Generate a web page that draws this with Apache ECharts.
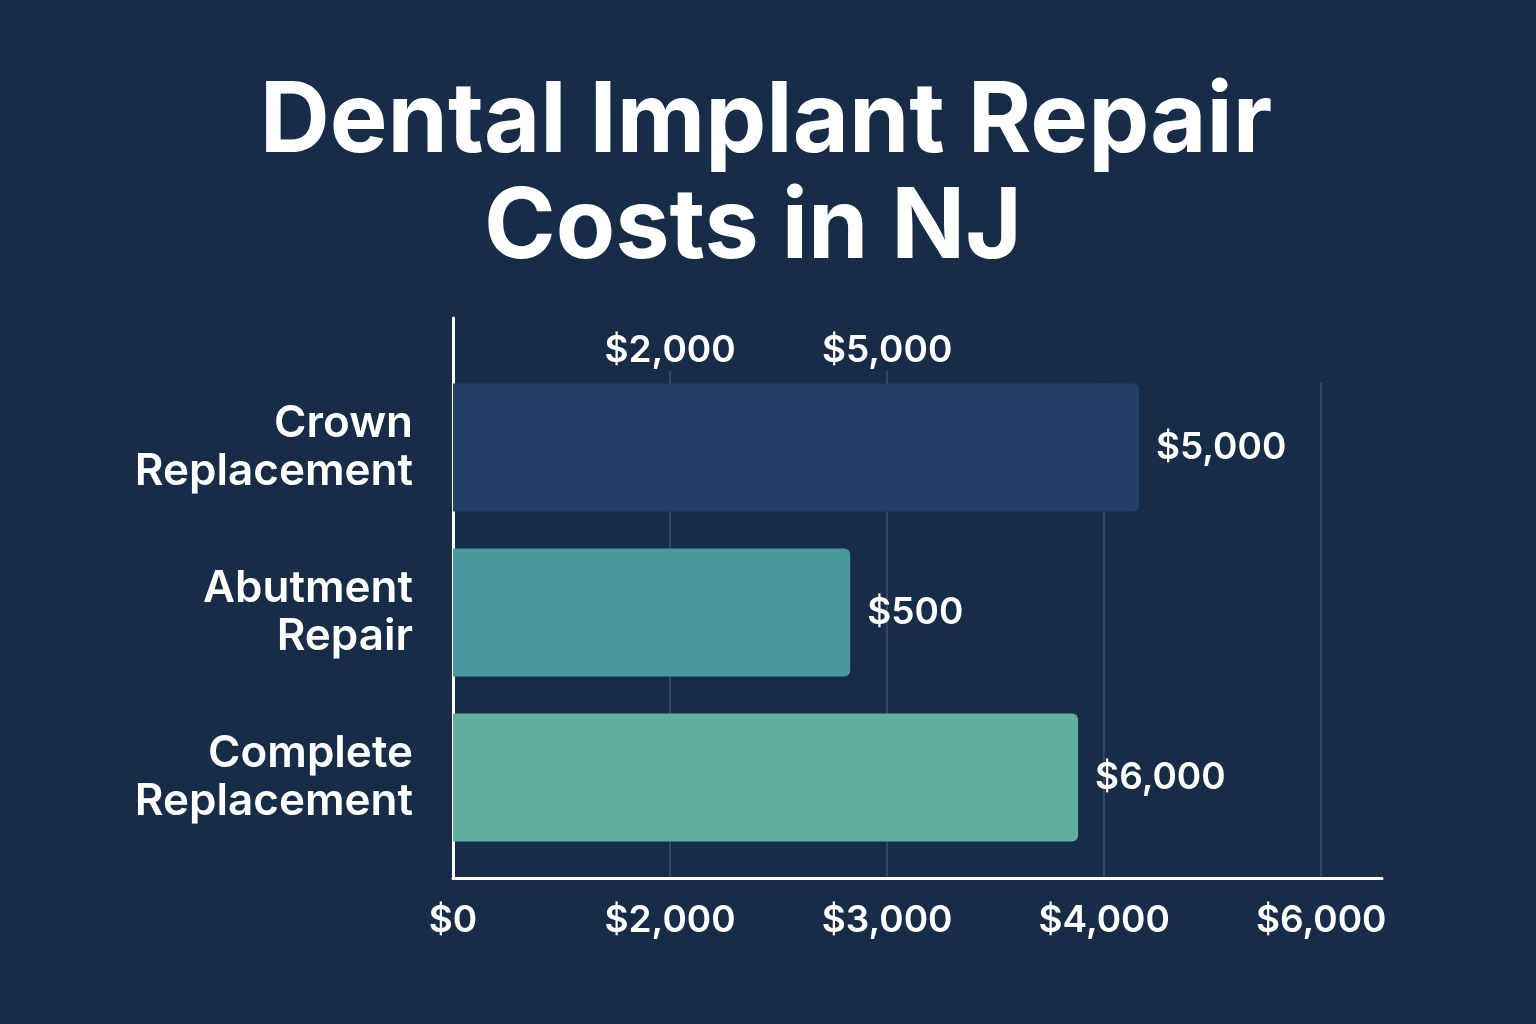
<!DOCTYPE html>
<html>
<head>
<meta charset="utf-8">
<script src="https://cdn.jsdelivr.net/npm/echarts@6/dist/echarts.min.js"></script>
<style>
html, body { margin: 0; padding: 0; background: #172c47; }
#chartmain { width: 1536px; height: 1024px; }
</style>
</head>
<body>
<div id="chartmain"></div>
<script>
// categories and the labels printed next to each bar
var categories = ['Crown Replacement', 'Abutment Repair', 'Complete Replacement'];
var barLabels = ['$5,000', '$500', '$6,000'];
// bar lengths, in tick steps (ticks are evenly spaced but labelled oddly)
var barValues = [3.16, 1.83, 2.88];
var barColors = ['#22406a', '#4a979e', '#62afa1'];
// tick labels along the bottom, and the two stray labels on top
var bottomTicks = ['$0', '$2,000', '$3,000', '$4,000', '$6,000'];
var bottomTickPos = [0, 1, 2, 3, 4];
var topTicks = ['$2,000', '$5,000'];
var topTickPos = [1, 2];

var axisMax = 4.28;
var font = 'Inter';

function tickText(list, pos, v) {
    var i = pos.indexOf(Math.round(v * 100) / 100);
    return i < 0 ? '' : list[i];
}

var titleStyle = {
    color: '#ffffff',
    fontFamily: font,
    fontWeight: 700,
    fontSize: 97
};

var option = {
    backgroundColor: '#172c47',
    title: [{
        text: 'Dental Implant Repair',
        left: 761,
        top: 69,
        textAlign: 'center',
        textStyle: titleStyle
    }, {
        text: 'Costs in NJ',
        left: 748,
        top: 175,
        textAlign: 'center',
        textStyle: titleStyle
    }],
    grid: [
        // frame: gridlines, bottom axis, top labels
        {left: 453, right: 154, top: 383, bottom: 146},
        // tall left axis line
        {left: 453, right: 154, top: 318, bottom: 146},
        // bars
        {left: 453, right: 154, top: 365, bottom: 164}
    ],
    xAxis: [{
        gridIndex: 0,
        type: 'value',
        position: 'bottom',
        min: 0,
        max: axisMax,
        interval: 1,
        axisLine: {show: true, lineStyle: {color: '#ffffff', width: 3}},
        axisTick: {show: false},
        axisLabel: {
            showMaxLabel: false,
            formatter: function (v) { return tickText(bottomTicks, bottomTickPos, v); },
            color: '#ffffff',
            fontFamily: font,
            fontWeight: 600,
            fontSize: 37,
            margin: 24
        },
        splitLine: {
            show: true,
            showMinLine: false,
            showMaxLine: false,
            lineStyle: {color: 'rgba(255,255,255,0.13)', width: 2}
        }
    }, {
        gridIndex: 0,
        type: 'value',
        position: 'top',
        min: 0,
        max: axisMax,
        interval: 1,
        axisLine: {show: false},
        axisTick: {
            show: true,
            customValues: topTickPos,
            length: 12,
            lineStyle: {color: 'rgba(255,255,255,0.13)', width: 2}
        },
        axisLabel: {
            showMaxLabel: false,
            formatter: function (v) { return tickText(topTicks, topTickPos, v); },
            color: '#ffffff',
            fontFamily: font,
            fontWeight: 600,
            fontSize: 37,
            margin: 14
        },
        splitLine: {show: false}
    }, {
        gridIndex: 1,
        type: 'value',
        min: 0,
        max: axisMax,
        show: false
    }, {
        gridIndex: 2,
        type: 'value',
        min: 0,
        max: axisMax,
        show: false
    }],
    yAxis: [{
        gridIndex: 0,
        type: 'value',
        min: 0,
        max: 1,
        show: false
    }, {
        gridIndex: 1,
        type: 'value',
        min: 0,
        max: 1,
        axisLine: {show: true, lineStyle: {color: '#ffffff', width: 3}},
        axisTick: {show: false},
        axisLabel: {show: false},
        splitLine: {show: false}
    }, {
        gridIndex: 2,
        type: 'category',
        inverse: true,
        data: categories,
        axisLine: {show: false},
        axisTick: {show: false},
        axisLabel: {
            formatter: function (v) { return v.replace(' ', '\n'); },
            color: '#ffffff',
            fontFamily: font,
            fontWeight: 600,
            fontSize: 44,
            lineHeight: 48,
            margin: 40
        }
    }],
    series: [{
        type: 'bar',
        xAxisIndex: 3,
        yAxisIndex: 2,
        barWidth: 128,
        data: barValues.map(function (v, i) {
            return {value: v, itemStyle: {color: barColors[i]}};
        }),
        itemStyle: {borderRadius: [0, 6, 6, 0]},
        label: {
            show: true,
            position: 'right',
            distance: 17,
            formatter: function (p) { return barLabels[p.dataIndex]; },
            color: '#ffffff',
            fontFamily: font,
            fontWeight: 600,
            fontSize: 37
        },
        z: 3
    }]
};

var myChart = echarts.init(document.getElementById('chartmain'));
myChart.setOption(option);
</script>
</body>
</html>
